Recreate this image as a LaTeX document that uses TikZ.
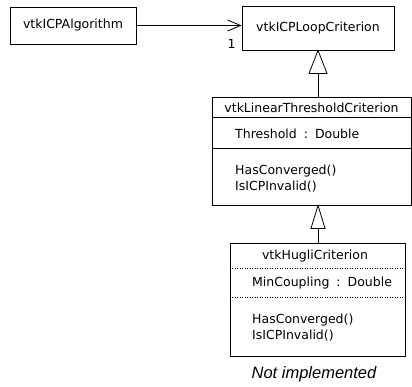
\documentclass[tikz,border=0pt]{standalone}
\usepackage{fontspec}
\setmainfont{DejaVu Sans}
\newfontfamily\notefont{Liberation Sans}
\usetikzlibrary{arrows.meta,calc}

\newcommand{\typesep}{\hspace{7pt}:\hspace{7pt}}

\tikzset{
  umlfont/.style={font=\fontsize{12.5}{15}\selectfont},
  box/.style={draw=black, line width=0.8pt, fill=white, inner sep=0pt, umlfont},
  member/.style={anchor=west, inner sep=0pt, umlfont},
  title/.style={inner sep=0pt, umlfont},
  assoc/.style={line width=0.8pt, -{Straight Barb[length=13pt,width=11pt,line width=0.8pt]}},
  inherit/.style={line width=0.8pt},
  sep/.style={line width=0.8pt},
  dotsep/.style={line width=0.5pt, dotted},
}

\begin{document}
\begin{tikzpicture}[x=1pt,y=-1pt]
\useasboundingbox (0,0) rectangle (412,386);

% plain classes
\node[box, minimum width=126pt, minimum height=37pt] (algo) at (73,25.5) {vtkICPAlgorithm};
\node[box, minimum width=152pt, minimum height=44pt] (loop) at (318,28) {vtkICPLoopCriterion};

% linear threshold criterion: name / attributes / operations
\node[box, minimum width=199pt, minimum height=108pt] (lin) at (311.5,151) {};
\node[title] (linname) at (311.5,107.5) {vtkLinearThresholdCriterion};
\draw[sep] ($(lin.north west)+(0,21)$) -- ($(lin.north east)+(0,21)$);
\draw[sep] ($(lin.north west)+(0,52)$) -- ($(lin.north east)+(0,52)$);
\node[member] (linattr) at (235,133.5) {Threshold\typesep Double};
\node[member] (linop1) at (235,171) {HasConverged()};
\node[member] (linop2) at (235,187) {IsICPInvalid()};

% Hugli criterion
\node[box, minimum width=175pt, minimum height=113pt] (hug) at (317.5,299.5) {};
\node[title] (hugname) at (315,256) {vtkHugliCriterion};
\draw[dotsep] ($(hug.north west)+(0,26)$) -- ($(hug.north east)+(0,26)$);
\draw[dotsep] ($(hug.north west)+(0,55)$) -- ($(hug.north east)+(0,55)$);
\node[member] (hugattr) at (252,283.5) {MinCoupling\typesep Double};
\node[member] (hugop1) at (252,320) {HasConverged()};
\node[member] (hugop2) at (252,336) {IsICPInvalid()};

\node[inner sep=0pt, font=\notefont\fontsize{16.5}{19}\selectfont\itshape] (note) at (314,374) {Not implemented};

% association
\draw[assoc] (algo.east) -- (algo.east -| loop.west);
\node[inner sep=0pt, umlfont] (mult) at (231.5,44) {1};

% generalizations
\coordinate (tip1) at (loop.south);
\coordinate (tip2) at (lin.south -| loop.south);
\draw[inherit] (lin.north -| tip1) -- ($(tip1)+(0,23)$);
\draw[inherit, fill=white] (tip1) -- ++(-9,23) -- ++(18,0) -- cycle;
\draw[inherit] (hug.north -| tip2) -- ($(tip2)+(0,23)$);
\draw[inherit, fill=white] (tip2) -- ++(-7,23) -- ++(14,0) -- cycle;
\end{tikzpicture}
\end{document}
